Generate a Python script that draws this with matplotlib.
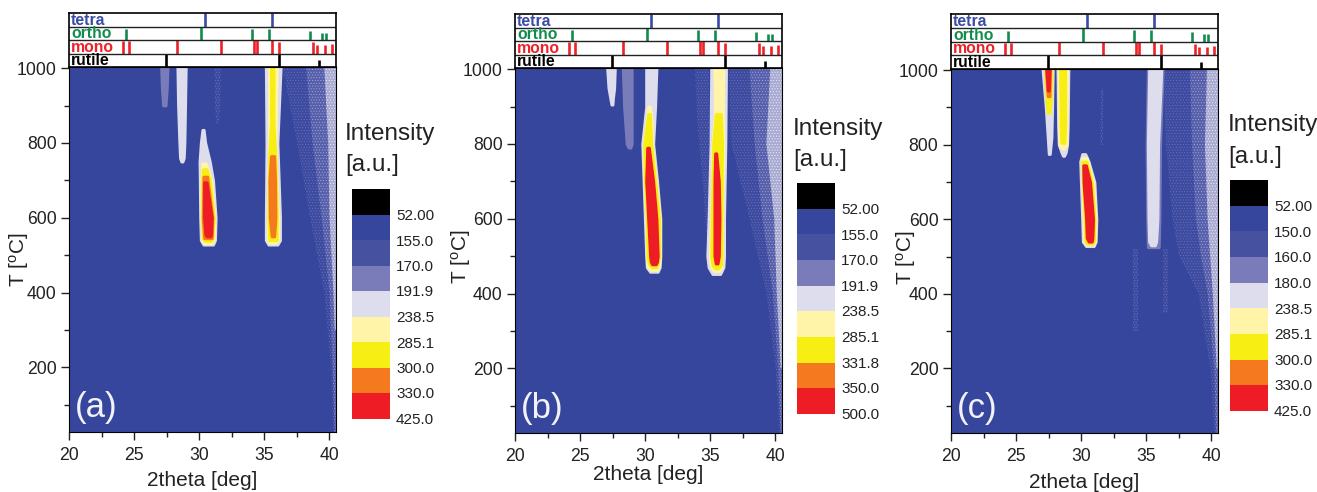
import matplotlib
matplotlib.use("Agg")
import matplotlib.pyplot as plt

plt.rcParams["font.family"] = ["Liberation Sans", "DejaVu Sans"]
plt.rcParams["mathtext.default"] = "regular"
plt.rcParams["hatch.linewidth"] = 0.4

W, H = 1317, 492

# reference reflections [deg] and relative height in the strip
tetra_pos = [30.45, 35.55]
tetra_h = [1, 1]
ortho_pos = [24.35, 30.1, 34.05, 35.35, 38.5, 39.4, 39.7]
ortho_h = [.8, 1, .85, .85, .7, .55, .55]
mono_pos = [24.1, 24.6, 28.3, 31.65, 34.2, 34.45, 35.55, 36.1, 38.75, 39.05, 39.65, 40.2]
mono_h = [.9, .9, 1, 1, 1, 1, 1, .85, .85, .6, .6, .7]
rutile_pos = [27.4, 36.1, 39.2]
rutile_h = [1, 1, .5]

# colour levels
base_col = "#36469d"
mid2_col = "#7a7cb9"
lav_col = "#dddded"
pale_col = "#fff4a8"
yel_col = "#f7ee14"
org_col = "#f5791f"
red_col = "#ee1c25"

# grainy diffuse levels: (face, dots)
mid_grain = ("#3c4aa0", "#6a72b6")
mid2_grain = ("#565fab", "#a5a7d0")
lav_grain = ("#a9abd2", "#eeeef6")

legend_colors = ["black", base_col, "#46519f", mid2_col, lav_col, pale_col, yel_col, org_col, red_col]
labels_a = ["52.00", "155.0", "170.0", "191.9", "238.5", "285.1", "300.0", "330.0", "425.0"]
labels_b = ["52.00", "155.0", "170.0", "191.9", "238.5", "285.1", "331.8", "350.0", "500.0"]
labels_c = ["52.00", "150.0", "160.0", "180.0", "238.5", "285.1", "300.0", "330.0", "425.0"]

# contour outlines: (T, left, right)
a_bg_mid = [(1003, 36.4, 40.5), (800, 37.5, 40.5), (600, 38.5, 40.5), (400, 39.6, 40.5), (200, 40.1, 40.5), (27, 40.3, 40.5)]
a_bg_mid2 = [(1003, 38.2, 40.5), (800, 38.7, 40.5), (600, 39.4, 40.5), (400, 40.0, 40.5), (200, 40.25, 40.5), (27, 40.4, 40.5)]
a_bg_lav = [(1003, 39.6, 40.5), (800, 39.9, 40.5), (600, 40.0, 40.5), (400, 40.3, 40.5), (300, 40.4, 40.5)]
a_27_mid2 = [(1003, 27.05, 27.55), (950, 27.1, 27.5), (900, 27.2, 27.4)]
a_28_lav = [(1003, 28.3, 28.95), (900, 28.35, 28.9), (800, 28.45, 28.85), (760, 28.5, 28.8), (750, 28.6, 28.7)]
a_31_mid = [(1003, 31.15, 31.65), (900, 31.2, 31.6), (850, 31.3, 31.5)]
a_30_lav = [(835, 30.22, 30.33), (800, 30.1, 30.45), (750, 30.0, 30.8), (700, 30.02, 31.05), (600, 30.05, 31.25), (540, 30.1, 31.2), (528, 30.3, 31.05)]
a_30_pale = [(745, 30.2, 30.5), (700, 30.15, 30.9), (600, 30.15, 31.15), (540, 30.2, 31.1), (532, 30.35, 30.95)]
a_30_yel = [(730, 30.25, 30.55), (700, 30.2, 30.8), (600, 30.2, 31.1), (545, 30.25, 31.0), (538, 30.4, 30.9)]
a_30_org = [(710, 30.3, 30.6), (600, 30.25, 31.0), (545, 30.35, 30.95)]
a_30_red = [(695, 30.35, 30.55), (600, 30.35, 30.95), (555, 30.45, 30.9), (550, 30.55, 30.85)]
a_35_lav = [(1003, 35.1, 36.25), (800, 35.15, 36.0), (600, 35.1, 36.2), (540, 35.1, 36.2), (528, 35.3, 36.0)]
a_35_pale = [(1003, 35.35, 35.95), (800, 35.35, 35.85), (600, 35.25, 36.05), (540, 35.25, 36.05), (533, 35.4, 35.9)]
a_35_yel = [(1000, 35.5, 35.7), (850, 35.5, 35.7), (760, 35.35, 35.85), (600, 35.3, 35.95), (540, 35.35, 35.95)]
a_35_org = [(765, 35.5, 35.75), (700, 35.37, 35.82), (600, 35.4, 35.85), (550, 35.55, 35.75)]

b_bg_mid = [(1003, 36.4, 40.5), (800, 36.6, 40.5), (600, 38.0, 40.5), (400, 39.3, 40.5), (200, 40.0, 40.5), (27, 40.3, 40.5)]
b_bg_mid2 = [(1003, 38.0, 40.5), (800, 38.4, 40.5), (600, 39.0, 40.5), (400, 39.8, 40.5), (200, 40.2, 40.5), (27, 40.4, 40.5)]
b_bg_lav = [(1003, 39.6, 40.5), (800, 39.3, 40.5), (600, 39.9, 40.5), (400, 40.1, 40.5), (200, 40.4, 40.5)]
b_34_mid = [(1003, 33.8, 34.9), (850, 34.0, 34.9), (700, 34.4, 34.9), (550, 34.7, 34.9)]
b_27_lav = [(1003, 27.05, 27.65), (950, 27.15, 27.6), (920, 27.3, 27.5), (905, 27.38, 27.47)]
b_28_mid2 = [(1003, 28.25, 28.95), (900, 28.35, 28.95), (800, 28.55, 28.95), (790, 28.7, 28.85)]
b_30_lav = [(1003, 30.05, 30.85), (900, 30.05, 30.75), (800, 29.75, 30.6), (700, 29.85, 30.9), (600, 29.95, 31.15), (500, 30.05, 31.15), (470, 30.1, 31.1), (458, 30.35, 30.95)]
b_30_pale = [(900, 30.2, 30.35), (850, 30.05, 30.5), (800, 29.85, 30.5), (700, 29.9, 30.8), (600, 30.05, 31.1), (500, 30.1, 31.1), (475, 30.15, 31.05), (463, 30.4, 30.9)]
b_30_yel = [(880, 30.2, 30.35), (800, 29.9, 30.45), (700, 29.95, 30.75), (600, 30.1, 31.05), (500, 30.15, 31.05), (480, 30.25, 30.95), (470, 30.45, 30.85)]
b_30_red = [(790, 30.13, 30.27), (700, 30.05, 30.6), (600, 30.2, 30.85), (500, 30.35, 30.95), (485, 30.4, 30.9), (478, 30.5, 30.8)]
b_35_lav = [(1003, 35.05, 36.2), (800, 35.0, 36.15), (600, 34.85, 36.05), (500, 34.75, 36.05), (470, 34.85, 36.0), (452, 35.15, 35.75)]
b_35_pale = [(1003, 35.3, 36.0), (880, 35.35, 35.95), (800, 35.15, 36.0), (600, 35.05, 35.9), (500, 34.95, 35.9), (470, 35.05, 35.85), (460, 35.25, 35.65)]
b_35_yel = [(880, 35.4, 35.8), (800, 35.2, 35.9), (600, 35.1, 35.85), (500, 35.05, 35.85), (475, 35.15, 35.8), (467, 35.35, 35.6)]
b_35_red = [(775, 35.35, 35.45), (700, 35.3, 35.65), (600, 35.3, 35.7), (500, 35.3, 35.65), (480, 35.4, 35.55)]

c_bg_mid = [(1003, 36.3, 40.5), (800, 36.5, 40.5), (600, 37.0, 40.5), (500, 37.5, 40.5), (400, 39.0, 40.5), (200, 39.9, 40.5), (27, 40.2, 40.5)]
c_bg_mid2 = [(1003, 38.35, 40.5), (800, 38.5, 40.5), (600, 38.8, 40.5), (500, 39.2, 40.5), (400, 39.7, 40.5), (200, 40.2, 40.5), (27, 40.35, 40.5)]
c_bg_lav = [(1003, 39.65, 40.5), (800, 39.5, 40.5), (600, 39.7, 40.5), (500, 39.9, 40.5), (400, 40.1, 40.5), (200, 40.4, 40.5)]
c_34_mid = [(520, 34.0, 34.35), (300, 34.0, 34.35)]
c_36_mid = [(520, 36.3, 36.65), (350, 36.3, 36.65)]
c_31_mid = [(950, 31.5, 31.7), (800, 31.45, 31.65)]
c_27_lav = [(1003, 27.0, 27.8), (900, 27.25, 27.75), (820, 27.4, 27.7), (775, 27.48, 27.57)]
c_27_yel = [(1003, 27.2, 27.7), (920, 27.3, 27.65), (885, 27.4, 27.55)]
c_27_org = [(1003, 27.25, 27.6), (930, 27.4, 27.55)]
c_27_red = [(1003, 27.3, 27.55), (945, 27.4, 27.5)]
c_28_lav = [(1003, 28.15, 29.0), (850, 28.2, 28.95), (800, 28.25, 28.9), (780, 28.45, 28.8), (770, 28.58, 28.67)]
c_28_pale = [(1003, 28.25, 28.9), (800, 28.3, 28.85), (790, 28.5, 28.65)]
c_28_yel = [(1003, 28.35, 28.75), (850, 28.4, 28.75), (805, 28.45, 28.7)]
c_30_lav = [(775, 30.05, 30.3), (755, 29.9, 30.55), (700, 29.95, 31.0), (600, 30.05, 31.15), (540, 30.1, 31.1), (528, 30.35, 30.95)]
c_30_pale = [(765, 30.05, 30.4), (700, 30.05, 30.9), (600, 30.15, 31.1), (540, 30.2, 31.05), (532, 30.4, 30.9)]
c_30_yel = [(755, 30.05, 30.4), (700, 30.1, 30.8), (600, 30.25, 31.0), (540, 30.3, 30.95), (535, 30.45, 30.85)]
c_30_red = [(745, 30.13, 30.35), (700, 30.15, 30.67), (600, 30.35, 30.9), (550, 30.4, 30.85), (540, 30.55, 30.8)]
c_35_mid2 = [(1003, 35.1, 36.25), (800, 35.0, 36.05), (600, 35.05, 36.0), (525, 35.1, 35.95)]
c_35_lav = [(1003, 35.2, 36.15), (800, 35.1, 35.9), (600, 35.15, 35.85), (540, 35.2, 35.75), (530, 35.35, 35.65)]

grain_a = [(a_bg_mid, mid_grain), (a_bg_mid2, mid2_grain), (a_bg_lav, lav_grain), (a_31_mid, mid_grain)]
grain_b = [(b_bg_mid, mid_grain), (b_bg_mid2, mid2_grain), (b_bg_lav, lav_grain), (b_34_mid, mid_grain)]
grain_c = [(c_bg_mid, mid_grain), (c_bg_mid2, mid2_grain), (c_bg_lav, lav_grain), (c_34_mid, mid_grain),
           (c_36_mid, mid_grain), (c_31_mid, mid_grain)]
layers_a = [(a_27_mid2, mid2_col), (a_28_lav, lav_col), (a_30_lav, lav_col), (a_30_pale, pale_col),
            (a_30_yel, yel_col), (a_30_org, org_col), (a_30_red, red_col), (a_35_lav, lav_col),
            (a_35_pale, pale_col), (a_35_yel, yel_col), (a_35_org, org_col)]
layers_b = [(b_27_lav, lav_col), (b_28_mid2, mid2_col), (b_30_lav, lav_col), (b_30_pale, pale_col),
            (b_30_yel, yel_col), (b_30_red, red_col), (b_35_lav, lav_col), (b_35_pale, pale_col),
            (b_35_yel, yel_col), (b_35_red, red_col)]
layers_c = [(c_27_lav, lav_col), (c_27_yel, yel_col), (c_27_org, org_col), (c_27_red, red_col),
            (c_28_lav, lav_col), (c_28_pale, pale_col), (c_28_yel, yel_col), (c_30_lav, lav_col),
            (c_30_pale, pale_col), (c_30_yel, yel_col), (c_30_red, red_col), (c_35_mid2, mid2_col),
            (c_35_lav, lav_col)]

fig = plt.figure(figsize=(W / 100, H / 100), dpi=100)


def px_axes(l, t, r, b):
    return fig.add_axes([l / W, 1 - b / H, (r - l) / W, (b - t) / H])


def px_text(x, y, s, **kw):
    fig.text(x / W, 1 - y / H, s, **kw)


def draw_panel(grain, layers, letter, labels, left, top, strip_top, bottom, leg_l, leg_t, leg_b, lab_x, lab_y0, lab_y1,
               int_x, int_y, unit_y, xl_x, xl_y, yl_x, yl_y):
    right = left + 267
    ax = px_axes(left, top, right, bottom)
    ax.set_facecolor(base_col)
    for rows, (face, dots) in grain:
        ts = [r[0] for r in rows]
        ax.fill_betweenx(ts, [r[1] for r in rows], [r[2] for r in rows], facecolor=face, edgecolor=dots,
                         hatch="......", lw=0)
    for rows, col in layers:
        ts = [r[0] for r in rows]
        ax.fill_betweenx(ts, [r[1] for r in rows], [r[2] for r in rows], facecolor=col, edgecolor=col,
                         lw=2, joinstyle="round")
    ax.set_xlim(19.97, 40.5)
    ax.set_ylim(27, 1003)
    ax.set_xticks([20, 25, 30, 35, 40])
    ax.set_xticks([22.5, 27.5, 32.5, 37.5], minor=True)
    ax.set_yticks([200, 400, 600, 800, 1000])
    ax.set_yticks([100, 300, 500, 700, 900], minor=True)
    ax.tick_params(which="major", length=6, width=1, labelsize=12.7, pad=3, color="#222222", labelcolor="#222222")
    ax.tick_params(which="minor", length=3.5, width=1, color="#222222")
    ax.tick_params(axis="x", pad=5)
    ax.text(20.4, 92, letter, color="#f2f2f8", fontsize=25, va="center", ha="left")

    strip = px_axes(left, strip_top, right, top)
    strip.set_xlim(19.97, 40.5)
    strip.set_ylim(0, 4)
    strip.set_xticks([])
    strip.set_yticks([])
    rows = [("rutile", rutile_pos, rutile_h, "black"),
            ("mono", mono_pos, mono_h, "#ee2028"),
            ("ortho", ortho_pos, ortho_h, "#118c4e"),
            ("tetra", tetra_pos, tetra_h, "#3a4aa5")]
    for i, (name, pos, hs, col) in enumerate(rows):
        strip.vlines(pos, i, [i + h for h in hs], color=col, lw=1.9)
        strip.text(20.12, i + 0.46, name, color=col, fontsize=11.3, fontweight="bold", va="center", ha="left")
        if i:
            strip.axhline(i, color="#222222", lw=1)
    for sp in strip.spines.values():
        sp.set_linewidth(1.2)

    leg = px_axes(leg_l, leg_t, leg_l + 38, leg_b)
    leg.barh(range(9), [1] * 9, height=1, color=legend_colors)
    leg.set_xlim(0, 1)
    leg.set_ylim(8.5, -0.5)
    leg.axis("off")
    step = (lab_y1 - lab_y0) / 8
    for i, lab in enumerate(labels):
        px_text(lab_x, lab_y0 + i * step, lab, fontsize=11, va="center", ha="left", color="#222222")
    px_text(int_x, int_y, "Intensity", fontsize=17.5, va="center", ha="left", color="#222222")
    px_text(int_x, unit_y, "[a.u.]", fontsize=17.5, va="center", ha="left", color="#222222")
    px_text(xl_x, xl_y, "2theta [deg]", fontsize=15, va="center", ha="center", color="#222222")
    px_text(yl_x, yl_y, "T [$^{o}$C]", fontsize=15, va="center", ha="center", rotation=90, color="#222222")


draw_panel(grain_a, layers_a, "(a)", labels_a, 69, 67, 13, 432, 352, 189, 419, 396, 216, 420, 345, 134, 165, 202, 481, 19, 260)
draw_panel(grain_b, layers_b, "(b)", labels_b, 515, 68, 14, 433, 797, 183, 414, 841, 210, 415, 793, 129, 160, 648, 475, 461, 257)
draw_panel(grain_c, layers_c, "(c)", labels_c, 951, 69, 14, 433, 1230, 180, 411, 1274, 207, 412, 1228, 125, 157, 1084, 483, 906, 258)

fig.savefig("out.png", dpi=100)
